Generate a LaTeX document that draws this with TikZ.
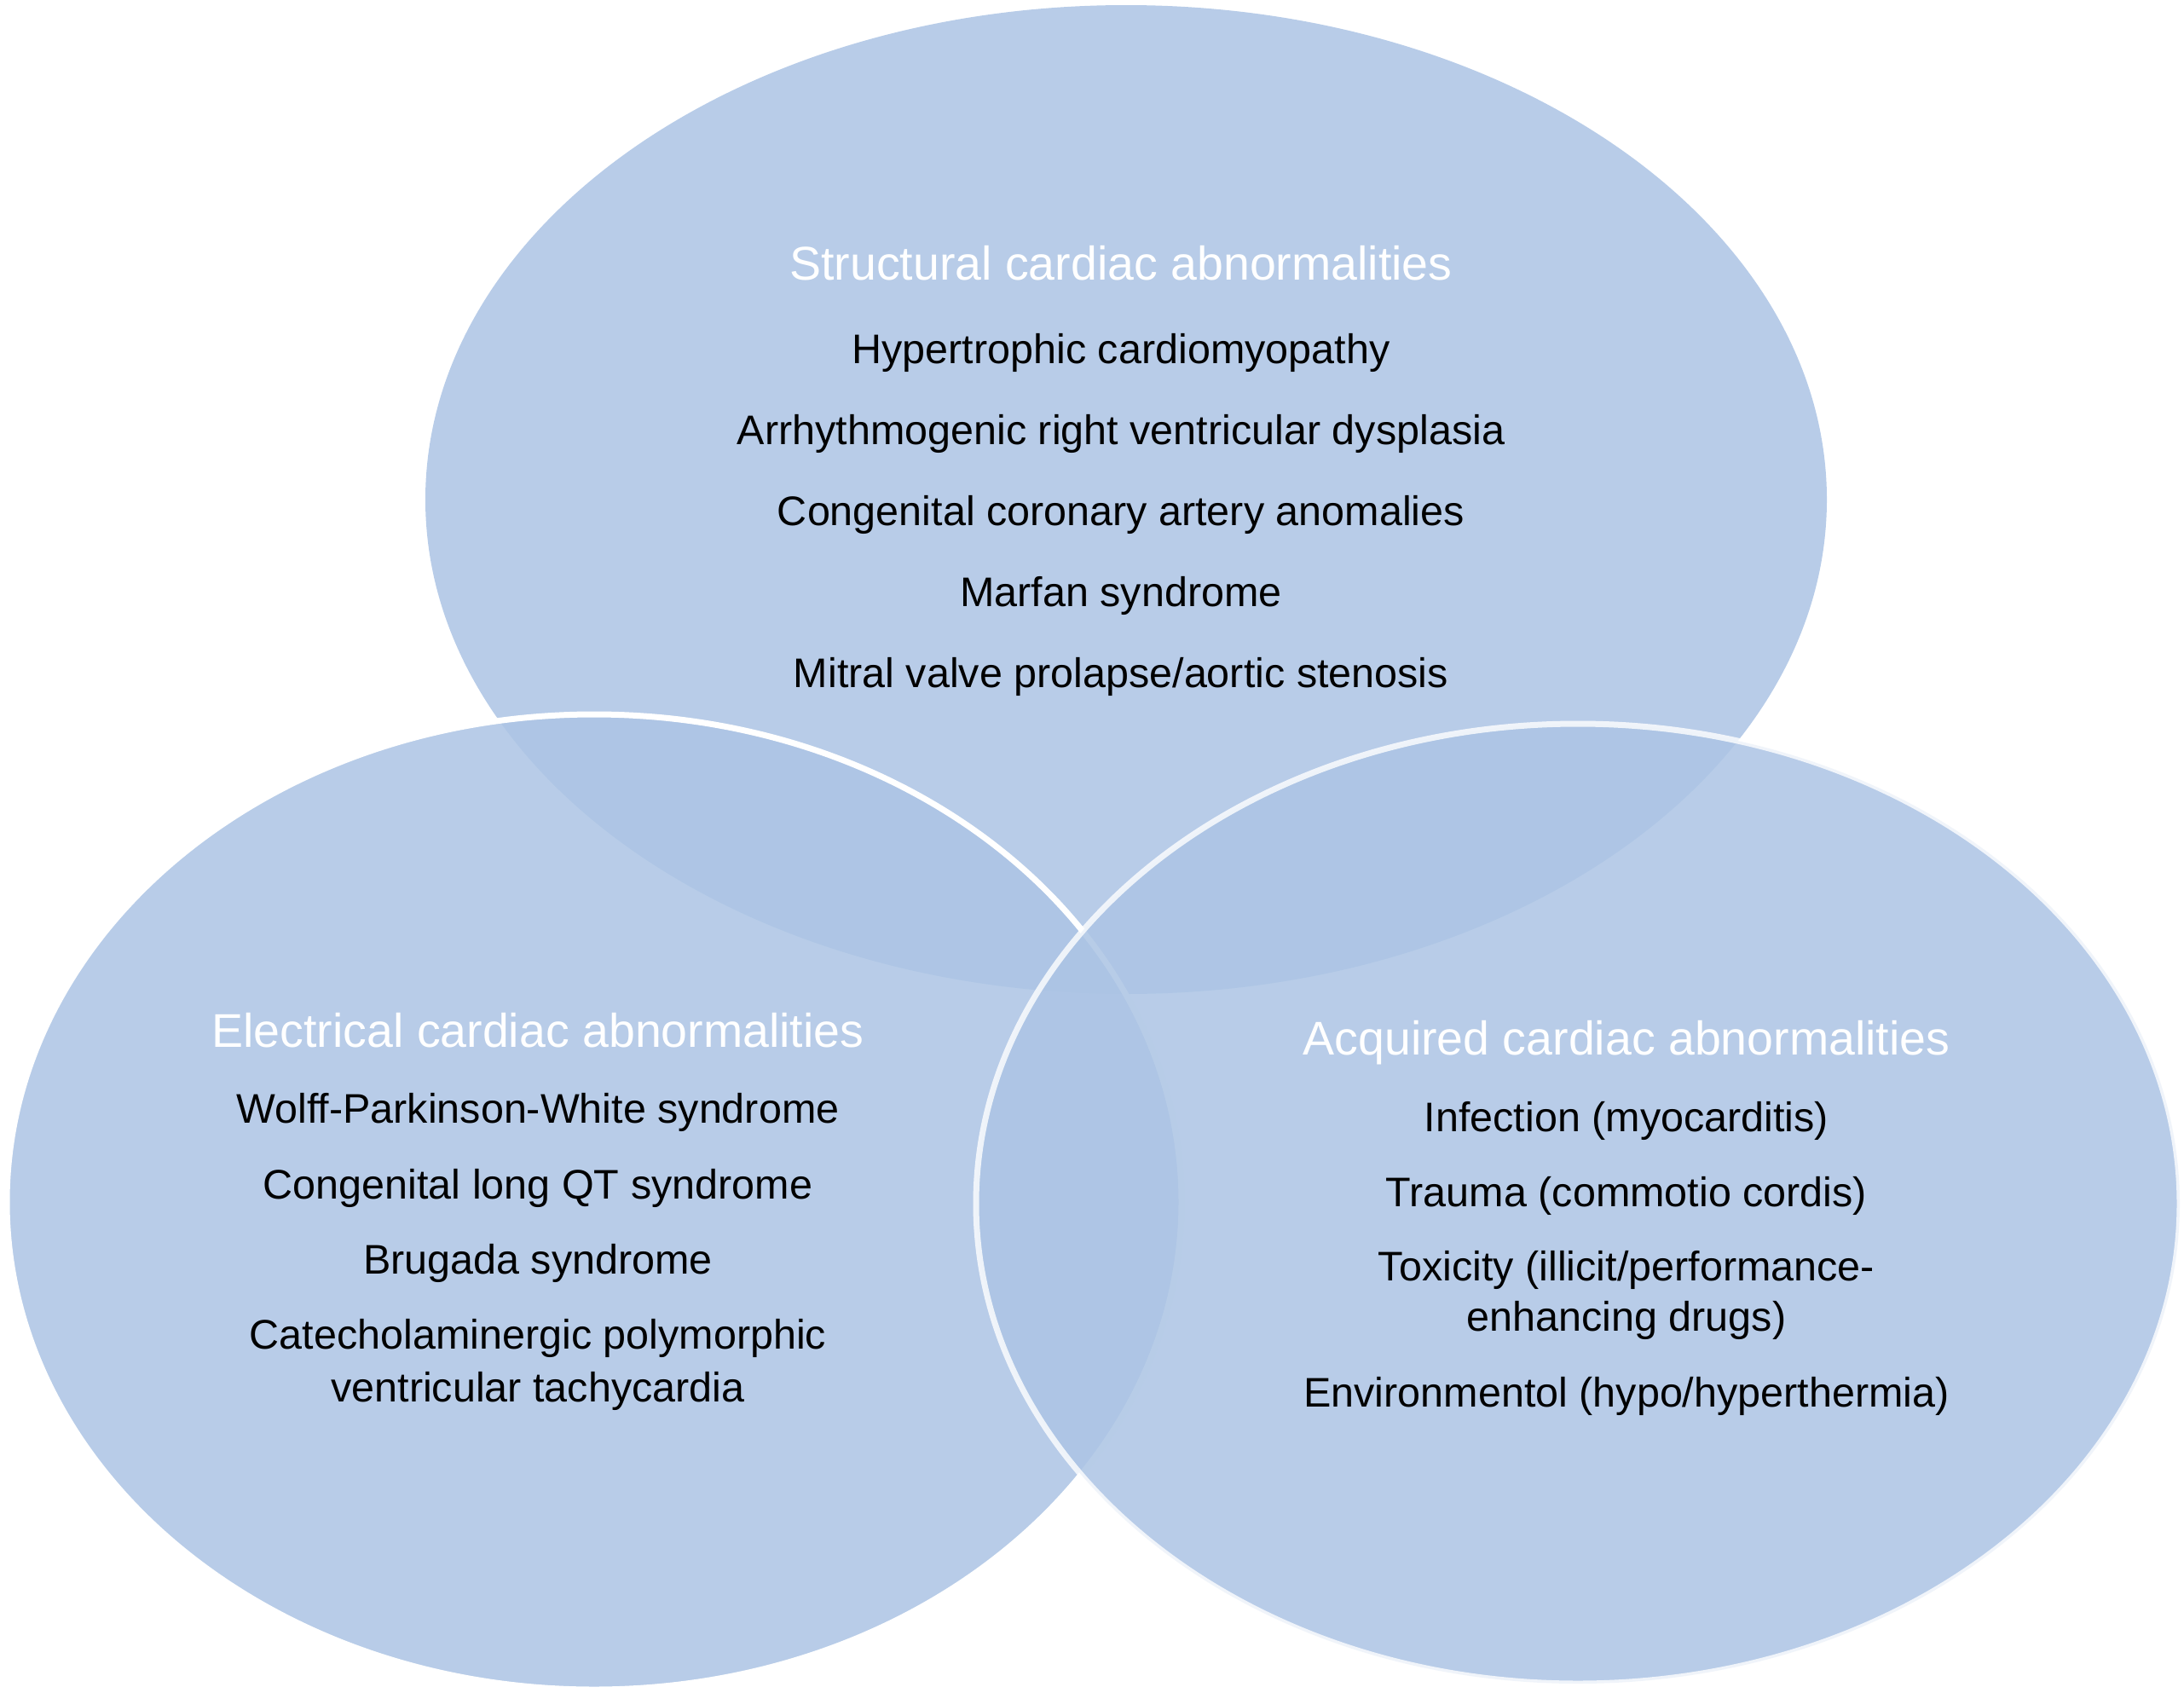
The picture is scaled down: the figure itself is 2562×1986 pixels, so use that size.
\documentclass[tikz,border=0pt]{standalone}
\usepackage{fontspec}
\setmainfont{Liberation Sans}
\definecolor{vennfill}{RGB}{172,196,228}
\begin{document}
\begin{tikzpicture}[x=1pt,y=-1pt]
\tikzset{
  venn/.style={fill=vennfill, fill opacity=0.86, draw=white, line width=7pt},
  hdr/.style={anchor=base, text=white, inner sep=0pt, font=\fontsize{55.5}{66}\selectfont},
  item/.style={anchor=base, text=black, inner sep=0pt, align=center, font=\fontsize{48.5}{58}\selectfont},
}
\useasboundingbox (0,0) rectangle (2562,1986);
% circles
\path[venn, draw=none] (1321,586) ellipse [x radius=822, y radius=580];
\path[venn, draw opacity=1] (697,1410) ellipse [x radius=689, y radius=572];
\path[venn, draw opacity=0.8] (1851,1412) ellipse [x radius=706, y radius=563];
% top: structural
\node[hdr] (s0) at (1315,328) {Structural cardiac abnormalities};
\node[item] (s1) at (1315,426) {Hypertrophic cardiomyopathy};
\node[item] (s2) at (1315,521) {Arrhythmogenic right ventricular dysplasia};
\node[item] (s3) at (1315,616) {Congenital coronary artery anomalies};
\node[item] (s4) at (1315,711) {Marfan syndrome};
\node[item] (s5) at (1315,806) {Mitral valve prolapse/aortic stenosis};
% left: electrical
\node[hdr] (e0) at (631,1228) {Electrical cardiac abnormalities};
\node[item] (e1) at (631,1317) {Wolff-Parkinson-White syndrome};
\node[item] (e2) at (631,1406) {Congenital long QT syndrome};
\node[item] (e3) at (631,1494) {Brugada syndrome};
\node[item, font=\fontsize{48.5}{62}\selectfont] (e4) at (631,1644) {Catecholaminergic polymorphic\\ventricular tachycardia};
% right: acquired
\node[hdr] (a0) at (1908,1237) {Acquired cardiac abnormalities};
\node[item] (a1) at (1908,1327) {Infection (myocarditis)};
\node[item] (a2) at (1908,1415) {Trauma (commotio cordis)};
\node[item, font=\fontsize{48.5}{59}\selectfont] (a3) at (1908,1561) {Toxicity (illicit/performance-\\enhancing drugs)};
\node[item] (a4) at (1908,1650) {Environmentol (hypo/hyperthermia)};
\end{tikzpicture}
\end{document}
